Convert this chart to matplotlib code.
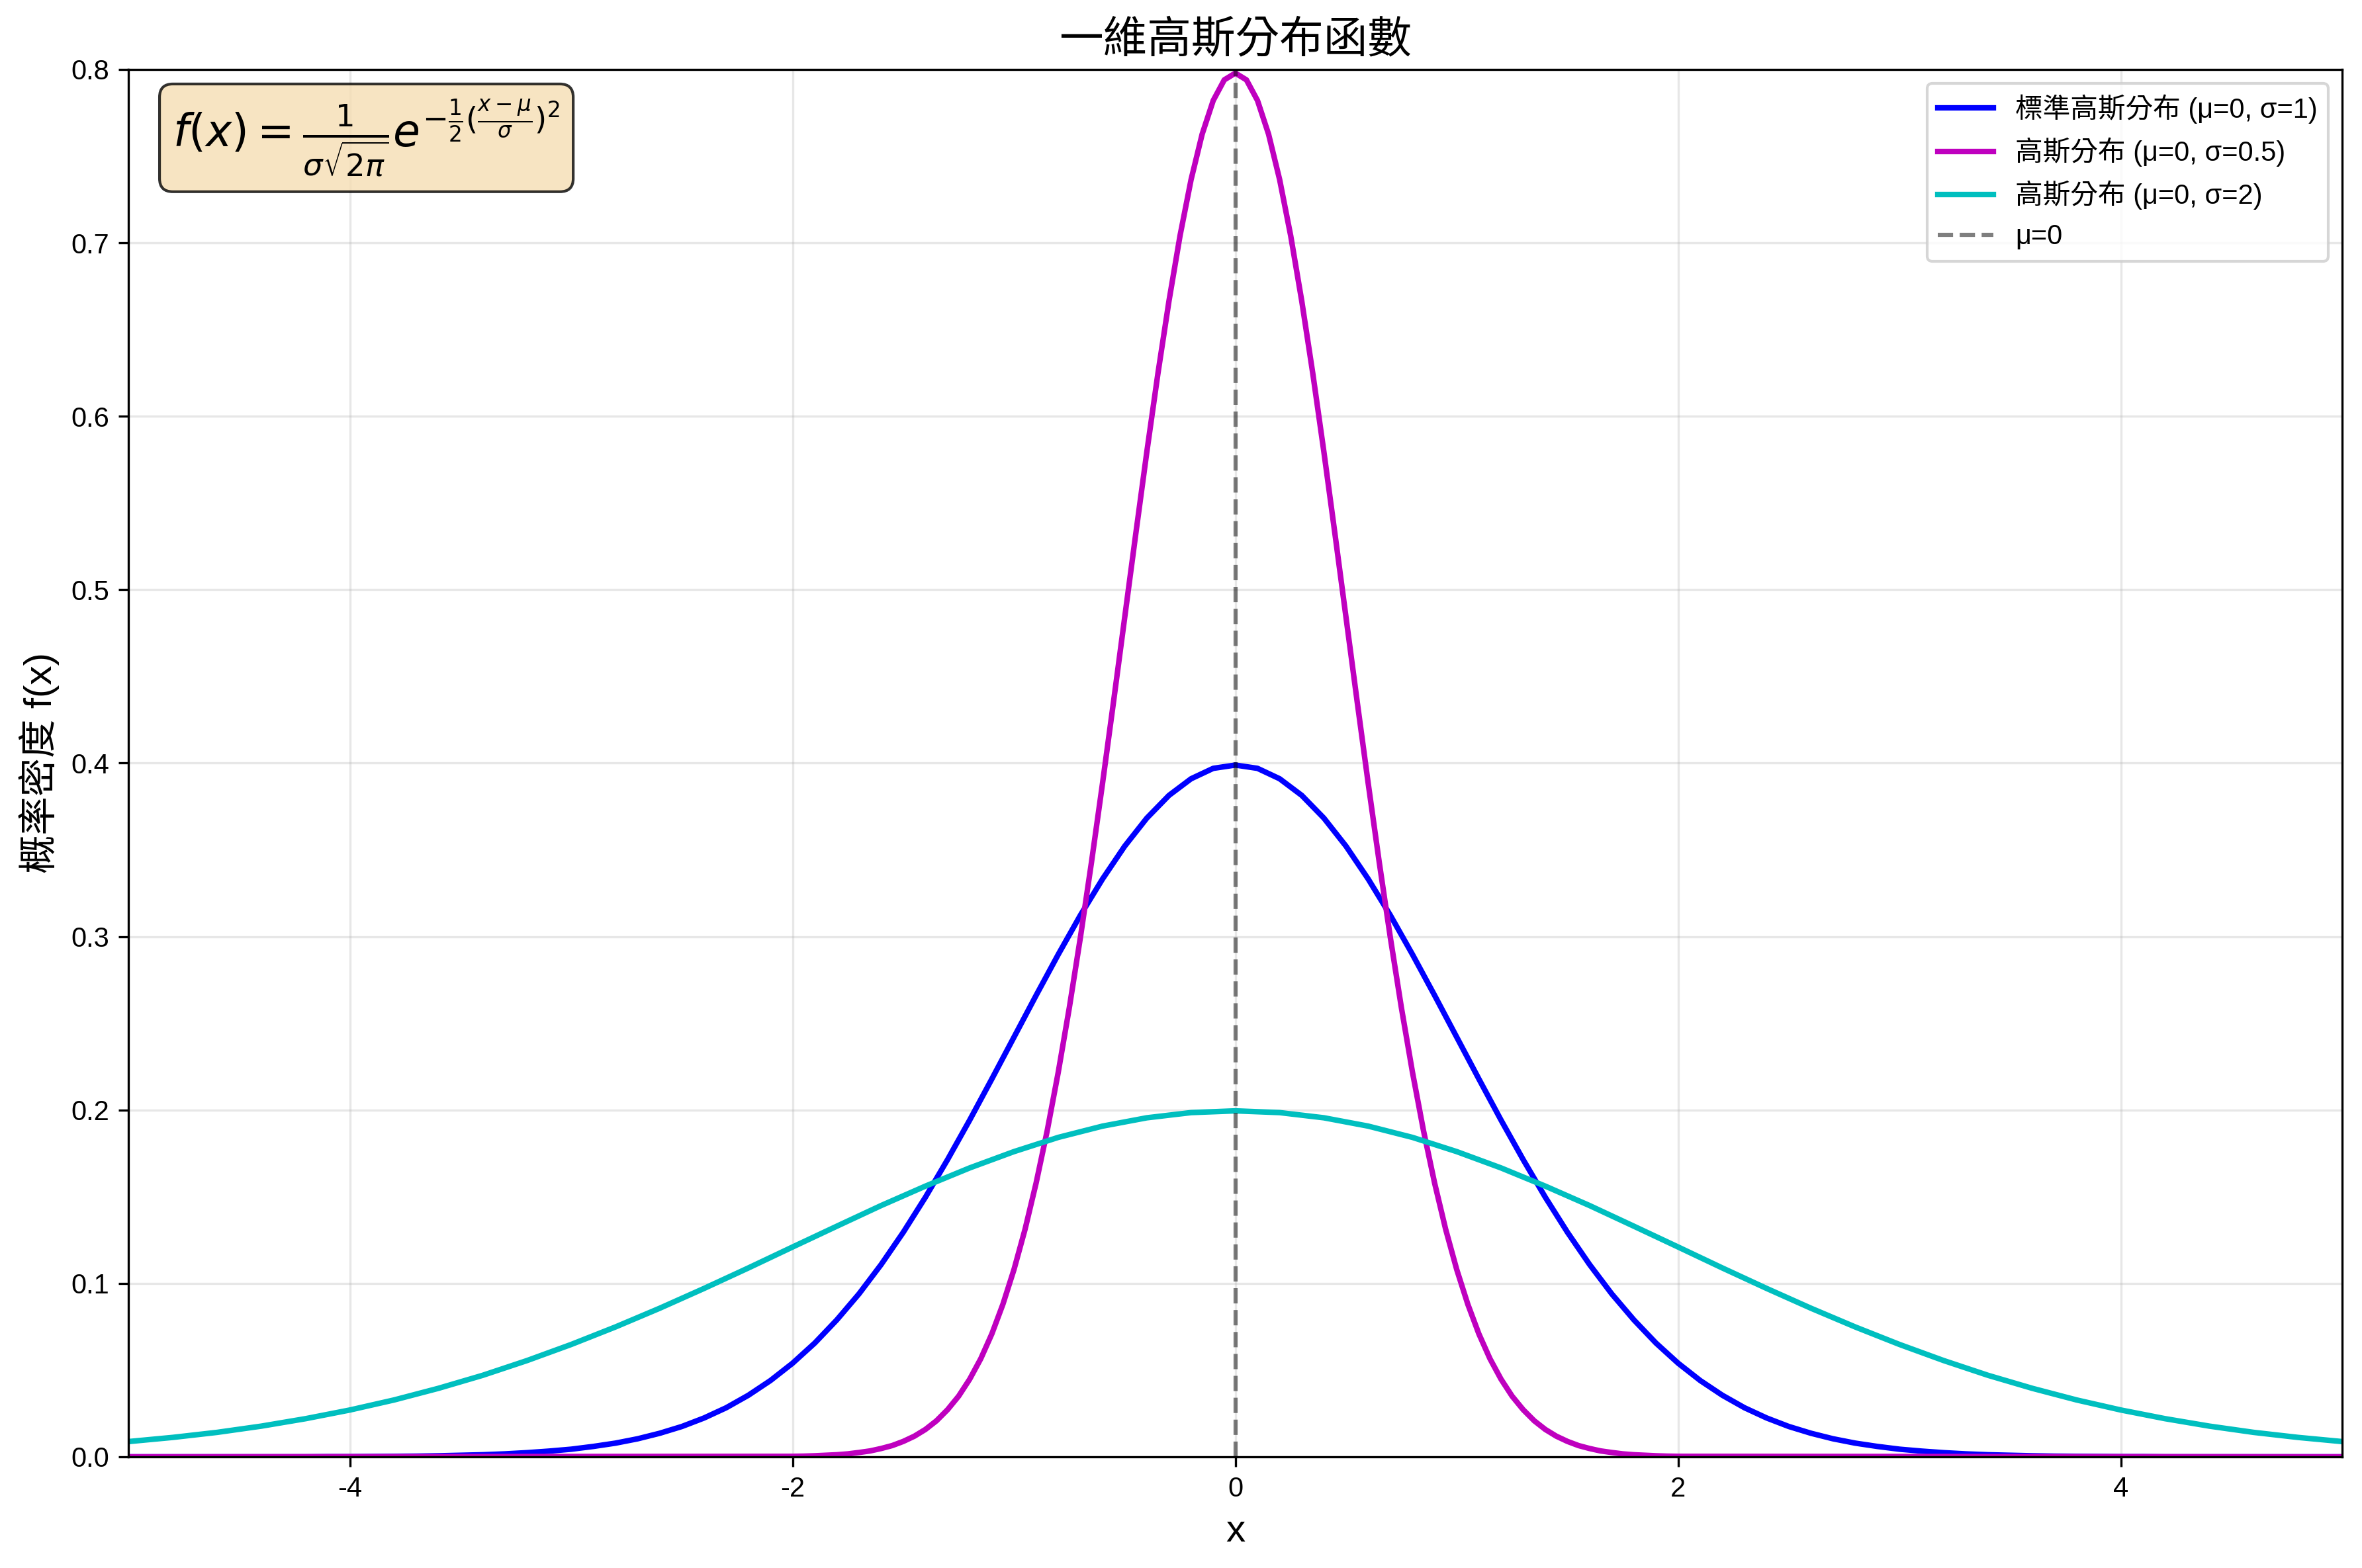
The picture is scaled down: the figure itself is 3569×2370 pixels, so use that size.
import numpy as np
import matplotlib
matplotlib.use('Agg')
import matplotlib.pyplot as plt

plt.rcParams['font.family'] = ['Liberation Sans', 'Noto Sans CJK TC', 'DejaVu Sans']
plt.rcParams['axes.unicode_minus'] = False

# values
# sigma = 1, sampled every 0.1 from -5 to 5
x_std = np.round(np.arange(-50, 51) * 0.1, 2)
y_std = [0.0000, 0.0000, 0.0000, 0.0000, 0.0000, 0.0000, 0.0000, 0.0000, 0.0000, 0.0001,
         0.0001, 0.0002, 0.0003, 0.0004, 0.0006, 0.0009, 0.0012, 0.0017, 0.0024, 0.0033,
         0.0044, 0.0060, 0.0079, 0.0104, 0.0136, 0.0175, 0.0224, 0.0283, 0.0355, 0.0440,
         0.0540, 0.0656, 0.0790, 0.0940, 0.1109, 0.1295, 0.1497, 0.1714, 0.1942, 0.2179,
         0.2420, 0.2661, 0.2897, 0.3123, 0.3332, 0.3521, 0.3683, 0.3814, 0.3910, 0.3970,
         0.3989,
         0.3970, 0.3910, 0.3814, 0.3683, 0.3521, 0.3332, 0.3123, 0.2897, 0.2661, 0.2420,
         0.2179, 0.1942, 0.1714, 0.1497, 0.1295, 0.1109, 0.0940, 0.0790, 0.0656, 0.0540,
         0.0440, 0.0355, 0.0283, 0.0224, 0.0175, 0.0136, 0.0104, 0.0079, 0.0060, 0.0044,
         0.0033, 0.0024, 0.0017, 0.0012, 0.0009, 0.0006, 0.0004, 0.0003, 0.0002, 0.0001,
         0.0001, 0.0000, 0.0000, 0.0000, 0.0000, 0.0000, 0.0000, 0.0000, 0.0000, 0.0000]

# sigma = 0.5, sampled every 0.05 from -2 to 2, flat beyond
x_narrow = np.concatenate([[-5.0], np.round(np.arange(-40, 41) * 0.05, 2), [5.0]])
y_narrow = [0.0000,
            0.0003, 0.0004, 0.0006, 0.0009, 0.0012, 0.0017, 0.0025, 0.0034, 0.0048, 0.0065,
            0.0089, 0.0119, 0.0158, 0.0208, 0.0272, 0.0350, 0.0448, 0.0566, 0.0709, 0.0880,
            0.1080, 0.1312, 0.1579, 0.1880, 0.2218, 0.2590, 0.2995, 0.3428, 0.3884, 0.4357,
            0.4839, 0.5321, 0.5794, 0.6245, 0.6664, 0.7041, 0.7365, 0.7627, 0.7821, 0.7940,
            0.7979,
            0.7940, 0.7821, 0.7627, 0.7365, 0.7041, 0.6664, 0.6245, 0.5794, 0.5321, 0.4839,
            0.4357, 0.3884, 0.3428, 0.2995, 0.2590, 0.2218, 0.1880, 0.1579, 0.1312, 0.1080,
            0.0880, 0.0709, 0.0566, 0.0448, 0.0350, 0.0272, 0.0208, 0.0158, 0.0119, 0.0089,
            0.0065, 0.0048, 0.0034, 0.0025, 0.0017, 0.0012, 0.0009, 0.0006, 0.0004, 0.0003,
            0.0000]

# sigma = 2, sampled every 0.2 from -5 to 5
x_wide = np.round(np.arange(-25, 26) * 0.2, 2)
y_wide = [0.0088, 0.0112, 0.0141, 0.0177, 0.0220, 0.0270, 0.0328, 0.0395, 0.0470, 0.0555,
          0.0648, 0.0749, 0.0857, 0.0971, 0.1089, 0.1210, 0.1330, 0.1449, 0.1561, 0.1666,
          0.1760, 0.1842, 0.1907, 0.1955, 0.1985,
          0.1995,
          0.1985, 0.1955, 0.1907, 0.1842, 0.1760, 0.1666, 0.1561, 0.1449, 0.1330, 0.1210,
          0.1089, 0.0971, 0.0857, 0.0749, 0.0648, 0.0555, 0.0470, 0.0395, 0.0328, 0.0270,
          0.0220, 0.0177, 0.0141, 0.0112, 0.0088]

labels = ['標準高斯分布 (μ=0, σ=1)', '高斯分布 (μ=0, σ=0.5)', '高斯分布 (μ=0, σ=2)', 'μ=0']

fig, ax = plt.subplots(figsize=(11.897, 7.9), dpi=300)
fig.subplots_adjust(left=0.0544, right=0.9916, top=0.9557, bottom=0.0709)

ax.plot(x_std, y_std, 'b-', linewidth=2, label=labels[0])
ax.plot(x_narrow, y_narrow, 'm-', linewidth=2, label=labels[1])
ax.plot(x_wide, y_wide, 'c-', linewidth=2, label=labels[2])
ax.axvline(x=0, color='k', linestyle='--', alpha=0.5, label=labels[3])

ax.set_xlim(-5, 5)
ax.set_ylim(0, 0.8)
ax.set_title('一維高斯分布函數', fontsize=16)
ax.set_xlabel('x', fontsize=14)
ax.set_ylabel('概率密度 f(x)', fontsize=14)
ax.grid(True, alpha=0.3)
ax.legend(loc='upper right', fontsize=10)

formula = r'$f(x) = \frac{1}{\sigma\sqrt{2\pi}} e^{-\frac{1}{2}(\frac{x-\mu}{\sigma})^2}$'
ax.text(0.02, 0.98, formula, transform=ax.transAxes, fontsize=16,
        verticalalignment='top',
        bbox=dict(boxstyle='round', facecolor='wheat', alpha=0.8))

plt.savefig('out.png', dpi=300)
